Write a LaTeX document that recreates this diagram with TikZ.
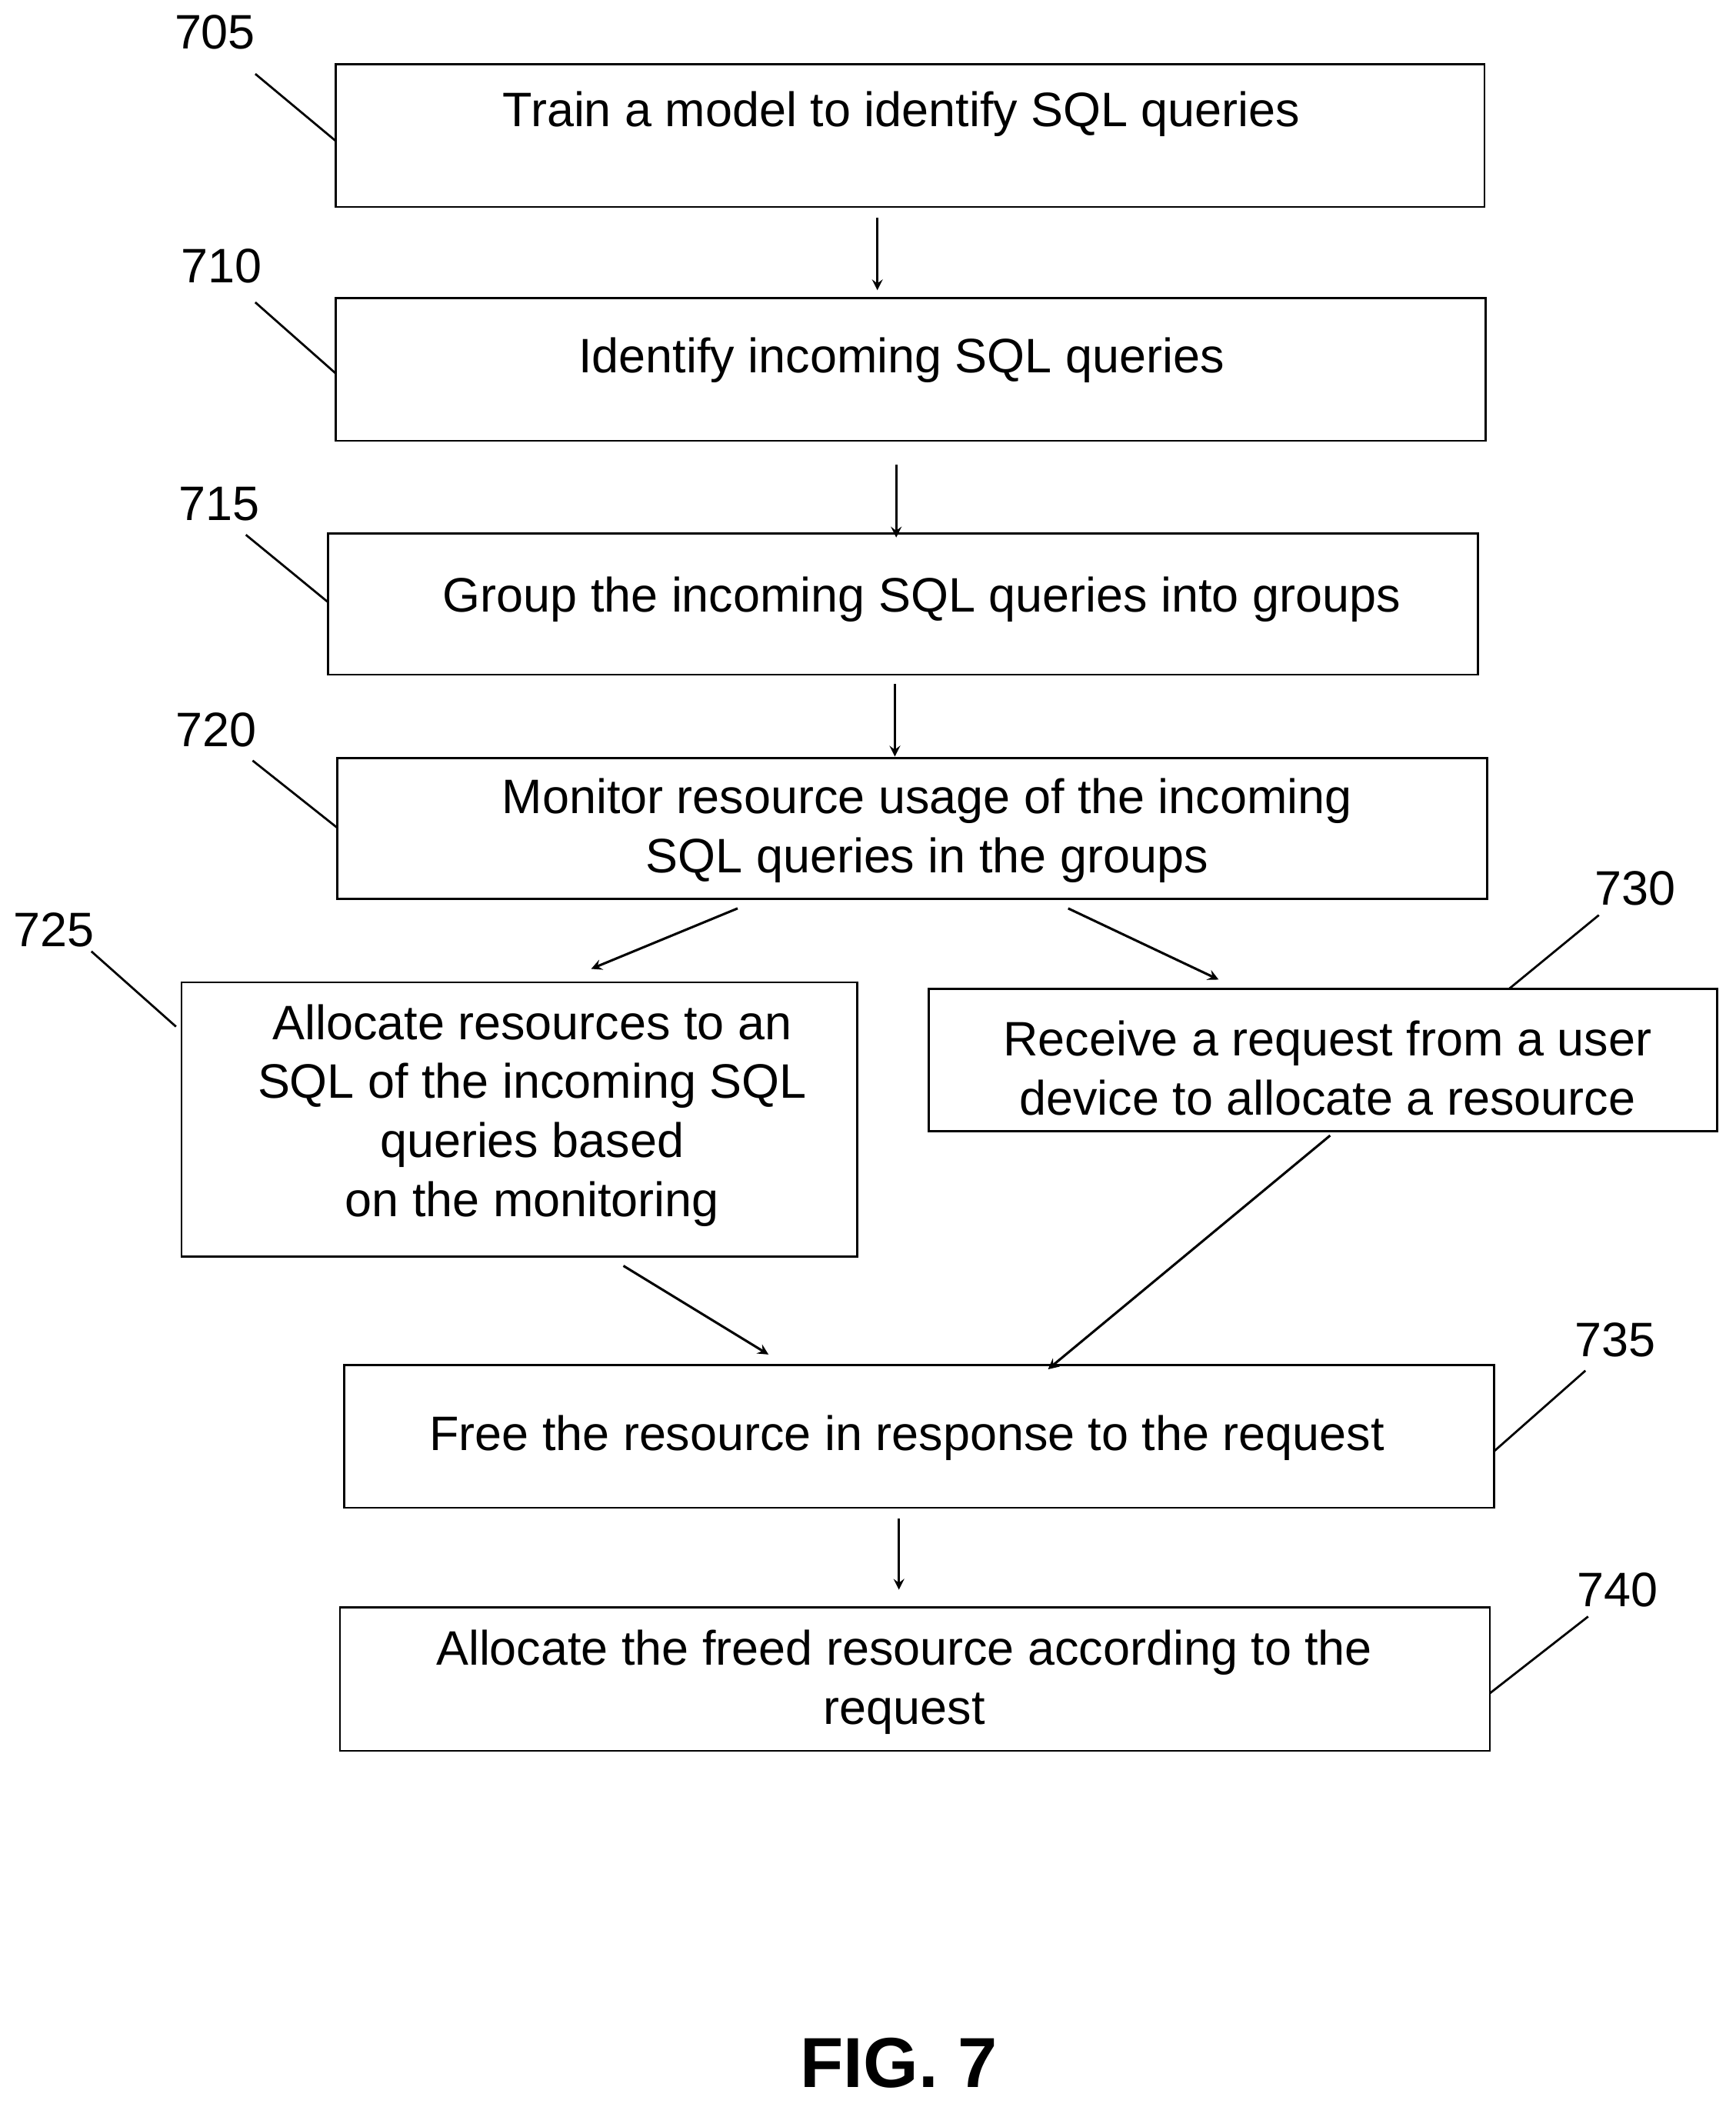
\documentclass[tikz,border=0pt]{standalone}
\usepackage{fontspec}
\setmainfont{Liberation Sans}
\usetikzlibrary{positioning}
\begin{document}
\begin{tikzpicture}[x=0.02cm,y=-0.02cm,>=stealth,
	stepbox/.style={draw,line width=0.9pt,inner sep=0pt,align=center,font=\fontsize{20.5}{25}\selectfont},
	num/.style={font=\fontsize{20.5}{25}\selectfont},
	flow/.style={->,line width=1pt},
	lead/.style={line width=0.9pt}]

	\useasboundingbox (0,0) rectangle (1292,1568);

	\node[stepbox,minimum width=17.1cm,minimum height=2.12cm] (s705) at (677.5,101) {};
	\node[num] at (671,85) {Train a model to identify SQL queries};
	\node[stepbox,minimum width=17.12cm,minimum height=2.12cm] (s710) at (678,275) {};
	\node[num] at (671,268) {Identify incoming SQL queries};
	\node[stepbox,minimum width=17.12cm,minimum height=2.1cm] (s715) at (672,449.5) {};
	\node[num] at (686,446) {Group the incoming SQL queries into groups};
	\node[stepbox,minimum width=17.12cm,minimum height=2.1cm] (s720) at (679,616.5) {};
	\node[num,align=center] at (690,618) {Monitor resource usage of the incoming\\SQL queries in the groups};
	\node[stepbox,minimum width=10.06cm,minimum height=4.08cm] (s725) at (386.5,833) {};
	\node[num,align=center] at (396,830) {Allocate resources to an\\SQL of the incoming SQL\\queries based\\on the monitoring};
	\node[stepbox,minimum width=11.74cm,minimum height=2.12cm] (s730) at (984.5,789) {};
	\node[num,align=center] at (988,795) {Receive a request from a user\\device to allocate a resource};
	\node[stepbox,minimum width=17.12cm,minimum height=2.12cm] (s735) at (684,1069) {};
	\node[num] at (675,1070) {Free the resource in response to the request};
	\node[stepbox,minimum width=17.12cm,minimum height=2.14cm] (s740) at (681,1249.5) {};
	\node[num,align=center] at (673,1252) {Allocate the freed resource according to the\\request};

	% reference numerals
	\node[num] (n705) at (160,24) {705};
	\node[num] (n710) at (165,198) {710};
	\node[num] (n715) at (163,375) {715};
	\node[num] (n720) at (161,543) {720};
	\node[num] (n725) at (40,692) {725};
	\node[num] (n730) at (1217,661) {730};
	\node[num] (n735) at (1202,997) {735};
	\node[num] (n740) at (1204,1183) {740};
	\draw[lead] (190,55) -- (250,105);
	\draw[lead] (190,225) -- (250,278);
	\draw[lead] (183,398) -- (244,448);
	\draw[lead] (188,566) -- (251,616);
	\draw[lead] (68,708) -- (131,764);
	\draw[lead] (1190,681) -- (1123,736);
	\draw[lead] (1180,1020) -- (1112,1080);
	\draw[lead] (1182,1203) -- (1109,1260);

	% arrows
	\coordinate (a1) at (653,162); \coordinate (b1) at (653,216);
	\coordinate (a2) at (667,346); \coordinate (b2) at (667,400);
	\coordinate (a3) at (666,509); \coordinate (b3) at (666,563);
	\coordinate (a4) at (549,676); \coordinate (b4) at (440,721);
	\coordinate (a5) at (795,676); \coordinate (b5) at (907,729);
	\coordinate (a6) at (464,942); \coordinate (b6) at (572,1008);
	\coordinate (a7) at (990,845); \coordinate (b7) at (780,1019);
	\coordinate (a8) at (669,1130); \coordinate (b8) at (669,1183);
	\foreach \i in {1,...,8}
		\draw[flow] (a\i) -- (b\i);

	\node[font=\fontsize{30}{36}\selectfont\bfseries] (fig) at (669,1535) {FIG. 7};
\end{tikzpicture}
\end{document}
